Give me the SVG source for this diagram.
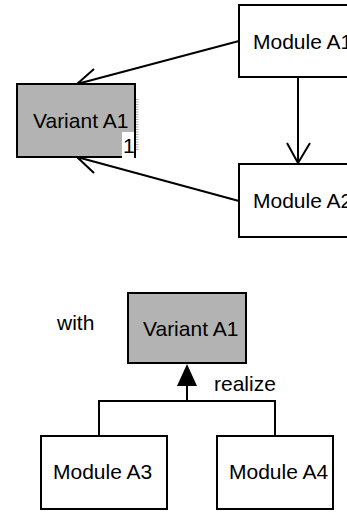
<svg xmlns="http://www.w3.org/2000/svg" width="347" height="512" viewBox="0 0 347 512">
<style>
.box{fill:#fff;stroke:#000;stroke-width:2}
.var{fill:#b3b3b3;stroke:#000;stroke-width:2}
.t{font-family:"Liberation Sans",Arial,sans-serif;font-size:21px;fill:#000}
.ln{fill:none;stroke:#000;stroke-width:2}
</style>
<rect width="347" height="512" fill="#fff"/>
<g id="connectors">
<path class="ln" d="M239,41 L77,84 M94,69 L77,84 L100,90"/>
<path class="ln" d="M298,77 L298,163 M287,143 L298,163 L310,143"/>
<path class="ln" d="M239,201 L77,157 M100,152 L77,157 L94,173"/>
<path class="ln" d="M99,436 L99,401 L275,401 L275,436 M187,401 L187,385"/>
<polygon points="187,364 177,386 197,386" fill="#000"/>
</g>
<g id="variantA1_top">
<rect class="var" x="17" y="84" width="118" height="73"/>
<line x1="137" y1="99" x2="137" y2="150" stroke="#aaa" stroke-width="3" stroke-dasharray="1,1.5"/>
<rect x="122" y="132" width="12" height="27" fill="#fff"/>
<line x1="135" y1="84" x2="135" y2="158" stroke="#000" stroke-width="2"/>
<text class="t" x="33" y="128">Variant A1</text>
<text class="t" x="123" y="153" font-size="19px">1</text>
</g>
<g id="moduleA1">
<rect class="box" x="239" y="5" width="120" height="72"/>
<text class="t" x="253" y="49">Module A1</text>
</g>
<g id="moduleA2">
<rect class="box" x="239" y="164" width="120" height="73"/>
<text class="t" x="253" y="208">Module A2</text>
</g>
<g id="with">
<text class="t" x="57" y="330">with</text>
</g>
<g id="variantA1_bottom">
<rect class="var" x="128" y="293" width="118" height="70"/>
<text class="t" x="143" y="336">Variant A1</text>
</g>
<g id="realize">
<text class="t" x="214" y="391">realize</text>
</g>
<g id="moduleA3">
<rect class="box" x="41" y="436" width="126" height="73"/>
<text class="t" x="53" y="479">Module A3</text>
</g>
<g id="moduleA4">
<rect class="box" x="217" y="436" width="116" height="73"/>
<text class="t" x="229" y="479">Module A4</text>
</g>
</svg>
